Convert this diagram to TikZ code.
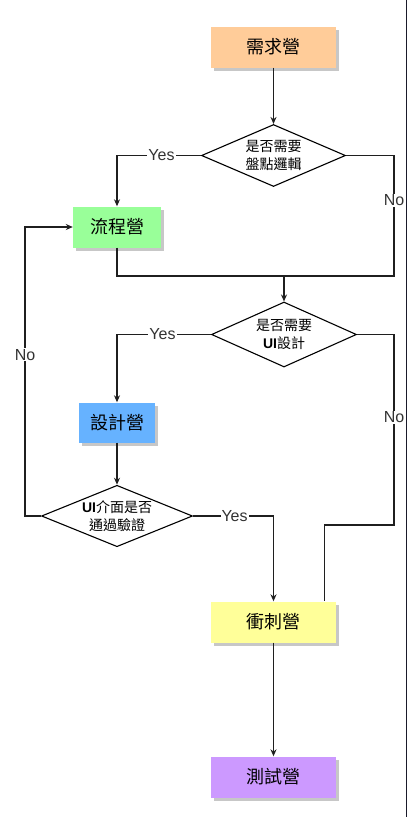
\documentclass[tikz,border=0pt]{standalone}
\usepackage{fontspec}
\setmainfont{Liberation Sans}
\newfontfamily\cjk{Noto Sans CJK TC}
\usetikzlibrary{shapes.geometric,shadows,arrows.meta}
\definecolor{reqfill}{HTML}{FFCC99}
\definecolor{flowfill}{HTML}{99FF99}
\definecolor{designfill}{HTML}{66B2FF}
\definecolor{sprintfill}{HTML}{FFFF99}
\definecolor{testfill}{HTML}{CC99FF}
\definecolor{edgeline}{HTML}{1A1A2A}
\tikzset{
  stagebox/.style={rectangle,minimum width=125pt,minimum height=41pt,inner sep=0pt,
    font=\cjk\fontsize{18}{22}\selectfont,
    drop shadow={shadow xshift=3pt,shadow yshift=-3pt,opacity=1,fill=black!22}},
  choice/.style={diamond,draw,line width=1.1pt,aspect=2.3,inner sep=0pt,align=center,fill=white,
    font=\fontsize{14}{18}\selectfont},
  answer/.style={fill=white,inner sep=1pt,text=black!80,font=\fontsize{16}{18}\selectfont},
  link/.style={line width=1.2pt,draw=black!88}
}
\begin{document}
\begin{tikzpicture}[x=1pt,y=-1pt,>={Stealth[length=7pt,width=6pt]}]
  \useasboundingbox (0,0) rectangle (408,817);
  % stages
  \node[stagebox,fill=reqfill] (req) at (273.5,47) {需求營};
  \node[stagebox,fill=flowfill,minimum width=88pt] (flow) at (117,227) {流程營};
  \node[stagebox,fill=designfill,minimum width=76pt,minimum height=40pt] (design) at (117,422.5) {設計營};
  \node[stagebox,fill=sprintfill] (sprint) at (273.5,622) {衝刺營};
  \node[stagebox,fill=testfill] (test) at (273.5,777) {測試營};
  % decisions
  \node[choice,minimum width=144pt,minimum height=62pt] (logic) at (273.5,155.5) {{\cjk 是否需要}\\{\cjk 盤點邏輯}};
  \node[choice,minimum width=145pt,minimum height=65pt] (needui) at (284,334.5) {{\cjk 是否需要}\\\textbf{UI}{\cjk 設計}};
  \node[choice,minimum width=151pt,minimum height=61pt] (uiok) at (117,516) {\textbf{UI}{\cjk 介面是否}\\{\cjk 通過驗證}};
  % bends
  \coordinate (join) at (284,276);
  \coordinate (rA) at (394,276);
  \coordinate (rB) at (394,525);
  \coordinate (back) at (25,516);
  % connectors
  \draw[link,->] (req) -- (logic);
  \draw[link,->] (logic.west) -| node[answer,pos=.235] {Yes} (flow.north);
  \draw[link] (logic.east) -| node[answer,pos=.686] {No} (rA) -- (join);
  \draw[link] (flow.south) |- (join);
  \draw[link,->] (join) -- (needui.north);
  \draw[link,->] (needui.west) -| node[answer,pos=.258] {Yes} (design.north);
  \draw[link] (needui.east) -| node[answer,pos=.717] {No} (rB) -| ([xshift=51pt]sprint.north);
  \draw[link,->] (design) -- (uiok);
  \draw[link,->] (uiok.west) -- (back) |- node[answer,pos=.279] {No} (flow.west);
  \draw[link,->] (uiok.east) -| node[answer,pos=.258] {Yes} (sprint.north);
  \draw[link,->] (sprint) -- (test);
  % page edge
  \draw[edgeline,line width=1.5pt] (406.7,0) -- (406.7,817);
\end{tikzpicture}
\end{document}
